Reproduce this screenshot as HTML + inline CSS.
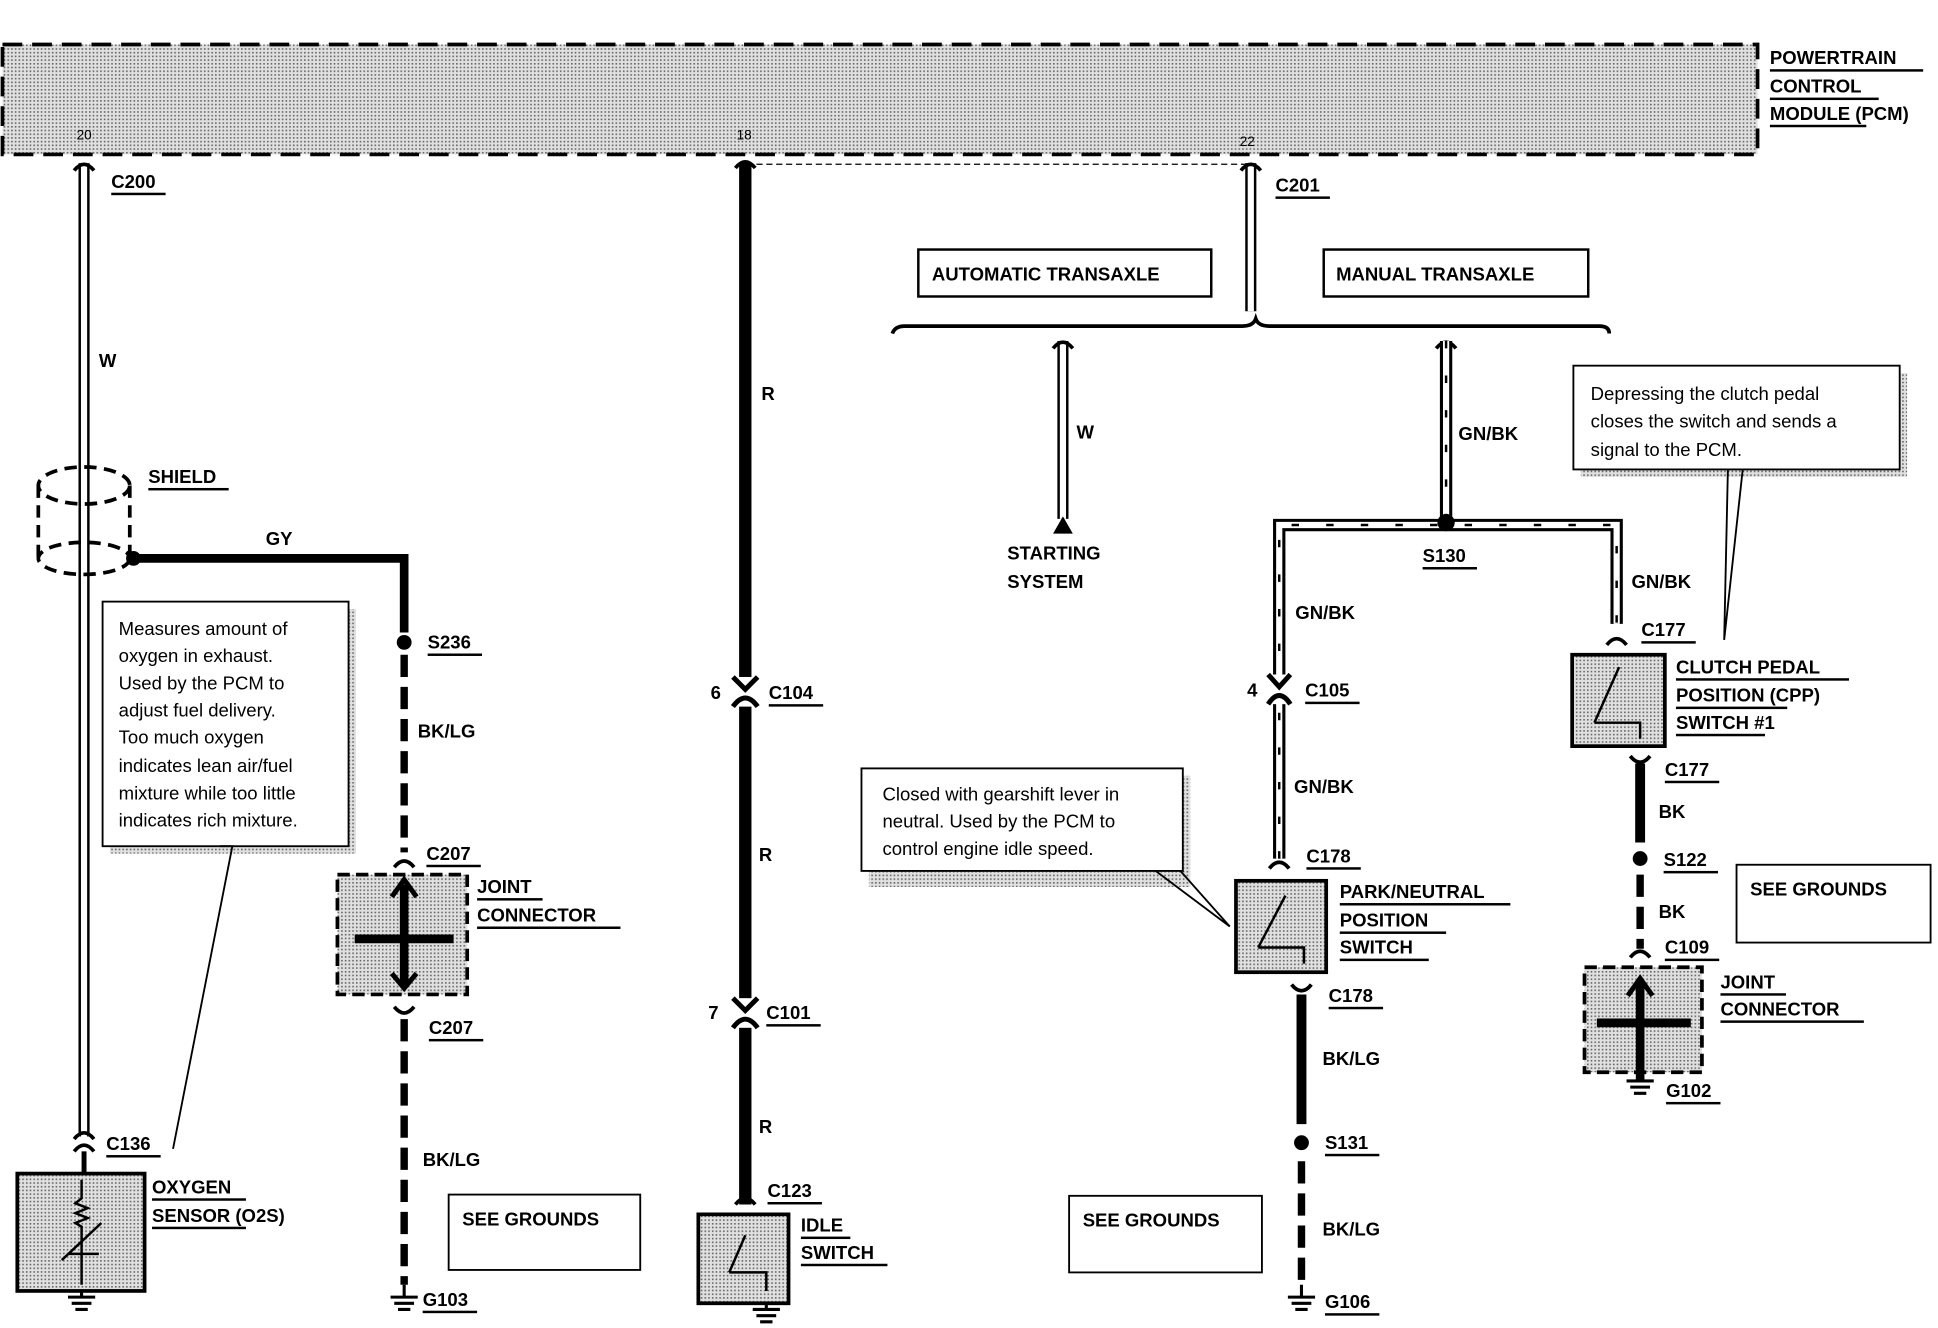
<!DOCTYPE html>
<html><head><meta charset="utf-8"><style>
html,body{margin:0;padding:0;background:#fff;}
svg{display:block}
text{font-family:"Liberation Sans",sans-serif;font-weight:bold;font-size:15px;fill:#000}
.n{font-weight:normal;font-size:15px}
</style></head><body>
<svg width="1938" height="1328" viewBox="0 0 1568 1075" preserveAspectRatio="none" xmlns="http://www.w3.org/2000/svg">
<defs>
<pattern id="st" width="3" height="3" patternUnits="userSpaceOnUse"><rect width="3" height="3" fill="#e0e0e0"/><rect width="1.3" height="1.3" fill="#666"/></pattern>
</defs>
<g fill="none" stroke="#000">
<!-- PCM -->
<rect x="2" y="36" width="1420" height="89" fill="url(#st)" stroke-width="3" stroke-dasharray="16 8"/>
<!-- W wire -->
<line x1="68" y1="132" x2="68" y2="920" stroke-width="9"/><line x1="68" y1="132" x2="68" y2="920" stroke="#fff" stroke-width="5"/>
<path d="M60 138 Q68 128 76 138" stroke-width="3"/>
<path d="M60 922 Q68 912 76 922 M60 932 Q68 922 76 932" stroke-width="3"/>
<line x1="68" y1="932" x2="68" y2="952" stroke-width="4"/>
<!-- shield -->
<ellipse cx="68" cy="393" rx="37" ry="15" stroke-width="3" stroke-dasharray="10 6"/>
<ellipse cx="68" cy="452" rx="37" ry="13" stroke-width="3" stroke-dasharray="10 6"/>
<line x1="31" y1="393" x2="31" y2="452" stroke-width="3" stroke-dasharray="10 6"/>
<line x1="105" y1="393" x2="105" y2="452" stroke-width="3" stroke-dasharray="10 6"/>
<!-- GY -->
<path d="M108 452 H327 V512" stroke-width="7"/>
<line x1="327" y1="530" x2="327" y2="690" stroke-width="6" stroke-dasharray="18 8"/>
<path d="M319 702 Q327 692 335 702" stroke-width="3"/>
<rect x="273" y="708" width="105" height="97" fill="url(#st)" stroke-width="3" stroke-dasharray="10 5"/>
<line x1="327" y1="716" x2="327" y2="798" stroke-width="7"/><line x1="287" y1="760" x2="367" y2="760" stroke-width="7"/>
<path d="M317 726 L327 712 L337 726 M317 788 L327 800 L337 788" stroke-width="4"/>
<path d="M319 815 Q327 825 335 815" stroke-width="3"/>
<line x1="327" y1="825" x2="327" y2="1040" stroke-width="6" stroke-dasharray="18 8"/>
<!-- R wire -->
<line x1="603" y1="132" x2="603" y2="975" stroke-width="10"/>
<line x1="612" y1="133" x2="1008" y2="133" stroke-width="1" stroke-dasharray="5 3"/>
<path d="M595 136 Q603 126 611 136" stroke-width="3"/>
<rect x="590" y="548" width="26" height="24" fill="#fff" stroke="none"/>
<path d="M593 548 L603 558 L613 548 M593 572 Q603 558 613 572" stroke-width="4"/>
<rect x="590" y="808" width="26" height="24" fill="#fff" stroke="none"/>
<path d="M593 808 L603 818 L613 808 M593 832 Q603 818 613 832" stroke-width="4"/>
<path d="M595 975 Q603 965 611 975" stroke-width="3"/>
<rect x="565" y="983" width="73" height="72" fill="url(#st)" stroke-width="3"/>
<path d="M603 1000 L590 1030 M590 1030 H620 V1045" stroke-width="2"/>
<!-- C201 -->
<line x1="1012" y1="132" x2="1012" y2="252" stroke-width="9"/><line x1="1012" y1="132" x2="1012" y2="252" stroke="#fff" stroke-width="5"/>
<path d="M1004 138 Q1012 128 1020 138" stroke-width="3"/>
<rect x="743" y="202" width="237" height="38" stroke-width="2"/>
<rect x="1071" y="202" width="214" height="38" stroke-width="2"/>
<path d="M722 270 Q724 264 732 264 H1005 Q1014 264 1016 258 Q1018 264 1027 264 H1294 Q1302 264 1302 270" stroke-width="3"/>
<!-- W start -->
<line x1="860" y1="276" x2="860" y2="420" stroke-width="9"/><line x1="860" y1="276" x2="860" y2="420" stroke="#fff" stroke-width="5"/>
<path d="M852 282 Q860 272 868 282 M1162 282 Q1170 272 1178 282" stroke-width="3"/>
<!-- GN/BK network -->
<path d="M1170 276 V422 M1035 695 V425 H1308 V505" stroke-width="10"/>
<path d="M1170 276 V422 M1035 695 V425 H1308 V505" stroke="#fff" stroke-width="5"/>
<path d="M1170 276 V422 M1035 695 V425 H1308 V505" stroke-width="2" stroke-dasharray="6 22"/>
<rect x="1022" y="546" width="26" height="24" fill="#fff" stroke="none"/>
<path d="M1026 546 L1035 556 L1044 546 M1026 570 Q1035 556 1044 570" stroke-width="4"/>
<path d="M1027 703 Q1035 693 1043 703 M1300 522 Q1308 512 1316 522" stroke-width="3"/>
<rect x="1000" y="713" width="73" height="74" fill="url(#st)" stroke-width="3"/>
<path d="M1040 725 L1018 767 M1018 767 H1055 V780" stroke-width="2"/>
<path d="M1045 797 Q1053 807 1061 797" stroke-width="3"/>
<line x1="1053" y1="805" x2="1053" y2="910" stroke-width="8"/>
<line x1="1053" y1="940" x2="1053" y2="1040" stroke-width="6" stroke-dasharray="18 8"/>
<rect x="1272" y="530" width="75" height="74" fill="url(#st)" stroke-width="3"/>
<path d="M1310 540 L1290 585 M1290 585 H1327 V598" stroke-width="2"/>
<path d="M1319 612 Q1327 622 1335 612" stroke-width="3"/>
<line x1="1327" y1="618" x2="1327" y2="682" stroke-width="8"/>
<line x1="1327" y1="708" x2="1327" y2="768" stroke-width="6" stroke-dasharray="18 8"/>
<path d="M1319 775 Q1327 765 1335 775" stroke-width="3"/>
<rect x="1282" y="783" width="95" height="85" fill="url(#st)" stroke-width="3" stroke-dasharray="10 5"/>
<line x1="1327" y1="795" x2="1327" y2="875" stroke-width="7"/><line x1="1292" y1="828" x2="1368" y2="828" stroke-width="7"/>
<path d="M1317 806 L1327 792 L1337 806" stroke-width="4"/>
<!-- O2 sensor -->
<rect x="14" y="950" width="103" height="95" fill="url(#st)" stroke-width="3"/>
<path d="M66 955 V970 l-5 4 10 4 -10 4 10 4 -10 4 5 3 V1040 M50 1020 L82 990 M55 1015 H80" stroke-width="2"/>
<!-- callouts -->
<rect x="89" y="493" width="199" height="198" fill="url(#st)" stroke="none"/>
<rect x="83" y="487" width="199" height="198" fill="#fff" stroke-width="1.5"/>
<path d="M178 685 L188 685 L140 930" stroke-width="1.5"/>
<rect x="1279" y="302" width="264" height="84" fill="url(#st)" stroke="none"/>
<rect x="1273" y="296" width="264" height="84" fill="#fff" stroke-width="1.5"/>
<path d="M1398 380 L1395 518 L1410 380" stroke-width="1.5"/>
<rect x="703" y="628" width="260" height="90" fill="url(#st)" stroke="none"/>
<rect x="697" y="622" width="260" height="83" fill="#fff" stroke-width="1.5"/>
<path d="M935 705 L995 750 L955 705" stroke-width="1.5"/>
<rect x="363" y="967" width="155" height="61" stroke-width="1.5"/>
<rect x="865" y="968" width="156" height="62" stroke-width="1.5"/>
<rect x="1405" y="700" width="157" height="63" stroke-width="1.5"/>
<!-- grounds -->
<g stroke-width="2.5">
<path d="M327 1040 V1050 M316 1050 H338 M319 1055 H335 M322 1060 H332"/>
<path d="M66 1045 V1050 M55 1050 H77 M58 1055 H74 M61 1060 H71"/>
<path d="M620 1055 V1060 M609 1060 H631 M612 1065 H628 M615 1070 H625"/>
<path d="M1053 1040 V1050 M1042 1050 H1064 M1045 1055 H1061 M1048 1060 H1058"/>
<path d="M1327 868 V875 M1316 875 H1338 M1319 880 H1335 M1322 885 H1332"/>
</g>
</g>
<!-- filled -->
<circle cx="108" cy="452" r="6"/><circle cx="327" cy="520" r="6"/><circle cx="1170" cy="423" r="7"/>
<circle cx="1053" cy="925" r="6"/><circle cx="1327" cy="695" r="6"/>
<polygon points="852,432 868,432 860,418"/>
<!-- texts -->
<g>
<text x="1432" y="52">POWERTRAIN</text><text x="1432" y="75">CONTROL</text><text x="1432" y="97">MODULE (PCM)</text>
<text x="62" y="113" style="font-size:11px;font-weight:normal">20</text>
<text x="596" y="113" style="font-size:11px;font-weight:normal">18</text>
<text x="1003" y="118" style="font-size:11px;font-weight:normal">22</text>
<text x="90" y="152">C200</text><text x="80" y="297">W</text><text x="120" y="391">SHIELD</text>
<text x="215" y="441">GY</text><text x="346" y="525">S236</text><text x="338" y="597">BK/LG</text>
<text x="345" y="696">C207</text><text x="386" y="723">JOINT</text><text x="386" y="746">CONNECTOR</text>
<text x="347" y="837">C207</text><text x="342" y="944">BK/LG</text><text x="342" y="1057">G103</text>
<text x="86" y="931">C136</text><text x="123" y="966">OXYGEN</text><text x="123" y="989">SENSOR (O2S)</text>
<text x="374" y="992">SEE GROUNDS</text>
<text x="616" y="324">R</text><text x="575" y="566">6</text><text x="622" y="566">C104</text>
<text x="614" y="697">R</text><text x="573" y="825">7</text><text x="620" y="825">C101</text>
<text x="614" y="917">R</text><text x="621" y="969">C123</text><text x="648" y="997">IDLE</text><text x="648" y="1019">SWITCH</text>
<text x="1032" y="155">C201</text>
<text x="754" y="227">AUTOMATIC TRANSAXLE</text><text x="1081" y="227">MANUAL TRANSAXLE</text>
<text x="871" y="355">W</text><text x="815" y="453">STARTING</text><text x="815" y="476">SYSTEM</text>
<text x="1180" y="356">GN/BK</text><text x="1151" y="455">S130</text><text x="1048" y="501">GN/BK</text>
<text x="1320" y="476">GN/BK</text><text x="1328" y="515">C177</text>
<text x="1009" y="564">4</text><text x="1056" y="564">C105</text><text x="1047" y="642">GN/BK</text>
<text x="1057" y="698">C178</text><text x="1084" y="727">PARK/NEUTRAL</text><text x="1084" y="750">POSITION</text><text x="1084" y="772">SWITCH</text>
<text x="1075" y="811">C178</text><text x="1070" y="862">BK/LG</text><text x="1072" y="930">S131</text><text x="1070" y="1000">BK/LG</text><text x="1072" y="1059">G106</text>
<text x="876" y="993">SEE GROUNDS</text>
<text x="1356" y="545">CLUTCH PEDAL</text><text x="1356" y="568">POSITION (CPP)</text><text x="1356" y="590">SWITCH #1</text>
<text x="1347" y="628">C177</text><text x="1342" y="662">BK</text><text x="1346" y="701">S122</text><text x="1342" y="743">BK</text><text x="1347" y="772">C109</text>
<text x="1392" y="800">JOINT</text><text x="1392" y="822">CONNECTOR</text><text x="1348" y="888">G102</text>
<text x="1416" y="725">SEE GROUNDS</text>
</g>
<g fill="#000">
<rect x="90" y="156" width="44" height="2"/><rect x="120" y="395" width="65" height="2"/><rect x="346" y="529" width="44" height="2"/>
<rect x="345" y="700" width="44" height="2"/><rect x="386" y="727" width="53" height="2"/><rect x="386" y="750" width="116" height="2"/>
<rect x="347" y="841" width="44" height="2"/><rect x="342" y="1061" width="44" height="2"/><rect x="86" y="935" width="44" height="2"/>
<rect x="123" y="970" width="76" height="2"/><rect x="123" y="993" width="76" height="2"/>
<rect x="622" y="570" width="44" height="2"/><rect x="620" y="829" width="44" height="2"/><rect x="621" y="973" width="44" height="2"/>
<rect x="648" y="1001" width="40" height="2"/><rect x="648" y="1023" width="70" height="2"/>
<rect x="1032" y="159" width="44" height="2"/><rect x="1151" y="459" width="44" height="2"/><rect x="1328" y="519" width="44" height="2"/>
<rect x="1056" y="568" width="44" height="2"/><rect x="1057" y="702" width="44" height="2"/>
<rect x="1084" y="731" width="138" height="2"/><rect x="1084" y="754" width="86" height="2"/><rect x="1084" y="776" width="72" height="2"/>
<rect x="1075" y="815" width="44" height="2"/><rect x="1072" y="934" width="44" height="2"/><rect x="1072" y="1063" width="44" height="2"/>
<rect x="1356" y="549" width="140" height="2"/><rect x="1356" y="572" width="90" height="2"/><rect x="1356" y="594" width="72" height="2"/>
<rect x="1347" y="632" width="44" height="2"/><rect x="1346" y="705" width="44" height="2"/><rect x="1347" y="776" width="44" height="2"/>
<rect x="1392" y="804" width="53" height="2"/><rect x="1392" y="826" width="116" height="2"/><rect x="1348" y="892" width="44" height="2"/>
<rect x="1432" y="56" width="124" height="2"/><rect x="1432" y="79" width="88" height="2"/><rect x="1432" y="101" width="78" height="2"/>
</g>
<g class="n">
<text class="n" x="96" y="514">Measures amount of</text><text class="n" x="96" y="536">oxygen in exhaust.</text>
<text class="n" x="96" y="558">Used by the PCM to</text><text class="n" x="96" y="580">adjust fuel delivery.</text>
<text class="n" x="96" y="602">Too much oxygen</text><text class="n" x="96" y="625">indicates lean air/fuel</text>
<text class="n" x="96" y="647">mixture while too little</text><text class="n" x="96" y="669">indicates rich mixture.</text>
<text class="n" x="1287" y="324">Depressing the clutch pedal</text><text class="n" x="1287" y="346">closes the switch and sends a</text><text class="n" x="1287" y="369">signal to the PCM.</text>
<text class="n" x="714" y="648">Closed with gearshift lever in</text><text class="n" x="714" y="670">neutral. Used by the PCM to</text><text class="n" x="714" y="692">control engine idle speed.</text>
</g>
</svg>
</body></html>
